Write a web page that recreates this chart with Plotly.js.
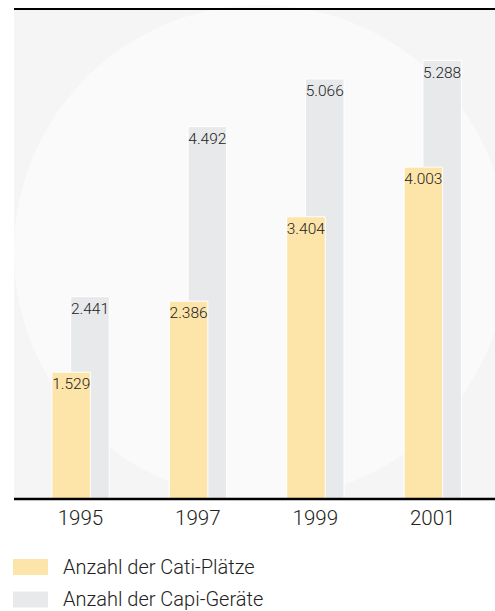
<!DOCTYPE html>
<html>
<head>
<meta charset="utf-8">
<script src="https://cdn.plot.ly/plotly-3.0.1.min.js"></script>
<style>html,body{margin:0;padding:0;background:#fff;}#chart{width:495px;height:611px;}</style>
</head>
<body>
<div id="chart"></div>
<script>
var years = ['1995', '1997', '1999', '2001'];
var catiPlaetze = [1529, 2386, 3404, 4003];
var capiGeraete = [2441, 4492, 5066, 5288];
var seriesNames = ['Anzahl der Cati-Plätze', 'Anzahl der Capi-Geräte'];
var seriesColors = ['#fde4a9', '#e8e9eb'];

var idx = years.map(function (_, i) { return i; });
var FONT = 'Roboto, "Liberation Sans", Arial, sans-serif';

function barTrace(vals, name, color, offset) {
  return {
    type: 'bar', x: idx, y: vals, name: name,
    width: 0.328, offset: offset,
    marker: { color: color, line: { color: '#ffffff', width: 1 } },
    texttemplate: '%{y:,}', textposition: 'inside', insidetextanchor: 'end',
    textangle: 0, constraintext: 'none',
    textfont: { family: FONT, size: 15.5, color: '#222222', weight: 300 },
    hoverinfo: 'skip', showlegend: false
  };
}

var data = [
  barTrace(capiGeraete, seriesNames[1], seriesColors[1], -0.083),
  barTrace(catiPlaetze, seriesNames[0], seriesColors[0], -0.243)
];

var shapes = [
  { type: 'circle', xref: 'paper', yref: 'paper', x0: 0, x1: 1.027, y0: 0, y1: 1.008,
    fillcolor: '#fafafa', line: { width: 0 }, layer: 'below' },
  { type: 'line', xref: 'paper', yref: 'paper', x0: 0, x1: 1, y0: 1, y1: 1,
    line: { color: '#000000', width: 2 } },
  { type: 'line', xref: 'paper', yref: 'paper', x0: 0, x1: 1, y0: 0, y1: 0,
    line: { color: '#000000', width: 2.5 } }
];
var annotations = [];
var legendY = [-0.1388, -0.2051];
seriesNames.forEach(function (n, i) {
  shapes.push({ type: 'rect', xref: 'paper', yref: 'paper',
    x0: -0.002, x1: 0.0707, y0: legendY[i] - 0.0163, y1: legendY[i] + 0.0163,
    fillcolor: seriesColors[i], line: { width: 0 } });
  annotations.push({ xref: 'paper', yref: 'paper', x: 0.0977, y: legendY[i],
    xanchor: 'left', yanchor: 'middle', showarrow: false, text: n,
    font: { family: FONT, size: 20, color: '#222222', weight: 300 } });
});

var layout = {
  width: 495, height: 611,
  margin: { l: 14, r: 0, t: 9, b: 112, pad: 0 },
  paper_bgcolor: '#ffffff', plot_bgcolor: '#f5f5f5',
  separators: ',.',
  barmode: 'overlay',
  showlegend: false,
  xaxis: { range: [-0.566, 3.531], tickvals: idx, ticktext: years, showgrid: false,
    zeroline: false, showline: false, ticks: '', ticklabelstandoff: 4,
    tickfont: { family: FONT, size: 20.5, color: '#222222', weight: 300 }, fixedrange: true },
  yaxis: { range: [0, 5910], showgrid: false, zeroline: false, showline: false,
    showticklabels: false, ticks: '', fixedrange: true },
  shapes: shapes,
  annotations: annotations,
  font: { family: FONT }
};

Plotly.newPlot('chart', data, layout, { staticPlot: true, displayModeBar: false });
</script>
</body>
</html>
